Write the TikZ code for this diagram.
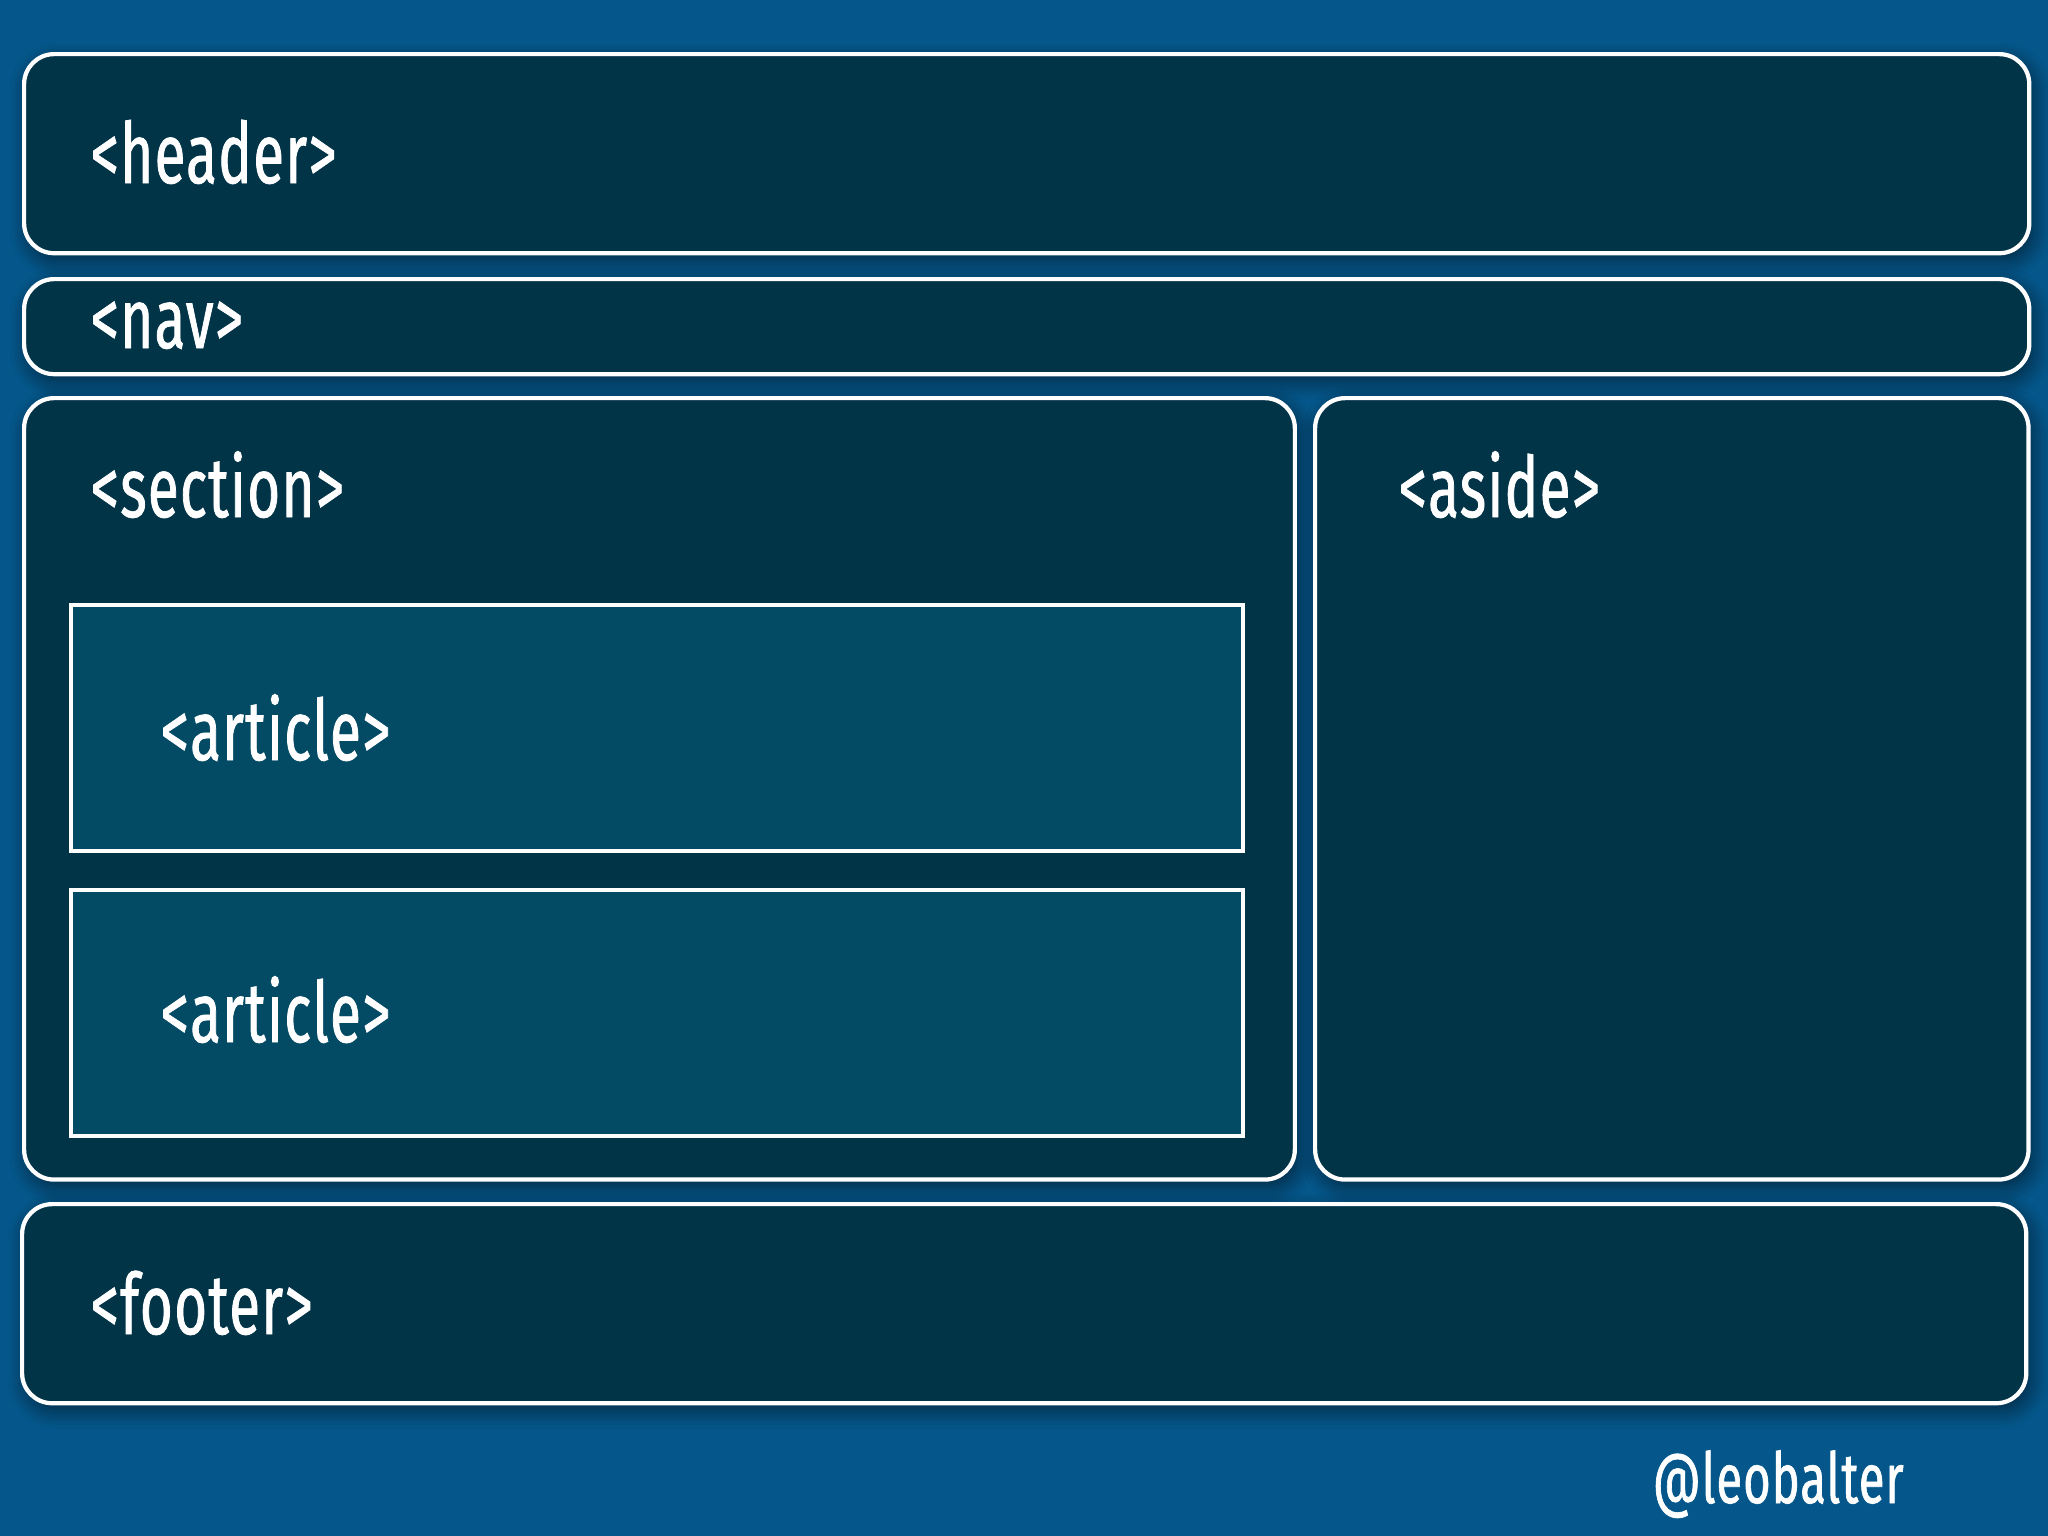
\documentclass[tikz,border=0pt]{standalone}
\usepackage{fontspec}
\setmainfont[FakeStretch=0.67, FakeBold=0.9, LetterSpace=1.5]{Fira Sans}
\usetikzlibrary{shadows,shadows.blur,positioning}
\definecolor{slidebg}{RGB}{5,87,139}
\definecolor{boxfill}{RGB}{2,52,72}
\definecolor{articlefill}{RGB}{3,75,100}
\tikzset{
    raw box/.style={rectangle, draw=white, line width=1.2pt, anchor=north west, inner sep=0pt},
    layout box/.style={raw box, fill=boxfill, rounded corners=0.3cm,
        blur shadow={shadow blur steps=10, shadow xshift=0.04cm, shadow yshift=-0.07cm,
            shadow blur radius=0.18cm, shadow opacity=55}},
    article box/.style={raw box, fill=articlefill},
    tag/.style={anchor=base west, text=white, inner sep=0pt, font=\fontsize{24}{28}\selectfont},
    handle/.style={tag, font=\fontsize{20}{24}\selectfont}
}

\begin{document}
\begin{tikzpicture}[x=0.01cm, y=-0.01cm]
	\fill[slidebg] (0,0) rectangle (2048,1536);
	\useasboundingbox (0,0) rectangle (2048,1536);
		% page regions
		\node[layout box, minimum width=20.04cm, minimum height=1.99cm] (header) at (22,52) {};
		\node[layout box, minimum width=20.04cm, minimum height=0.95cm] (nav) at (22,277) {};
		\node[layout box, minimum width=12.70cm, minimum height=7.81cm] (section) at (22,396) {};
		\node[layout box, minimum width=7.13cm, minimum height=7.81cm] (aside) at (1313,396) {};
		\node[layout box, minimum width=20.03cm, minimum height=1.99cm] (footer) at (20,1202) {};
		% articles inside the section
		\node[article box, minimum width=11.71cm, minimum height=2.46cm] (article1) at (69,603) {};
		\node[article box, minimum width=11.71cm, minimum height=2.46cm] (article2) at (69,888) {};
		% tag names
		\node[tag] (header tag) at (90,183) {<header>};
		\node[tag] (nav tag) at (90,348) {<nav>};
		\node[tag] (section tag) at (90,517) {<section>};
		\node[tag] (aside tag) at (1398,517) {<aside>};
		\node[tag] (article1 tag) at (160,760) {<article>};
		\node[tag] (article2 tag) at (160,1042) {<article>};
		\node[tag] (footer tag) at (90,1334) {<footer>};
		\node[handle] (handle name) at (1652,1503) {@leobalter};
	\end{tikzpicture}
\end{document}
